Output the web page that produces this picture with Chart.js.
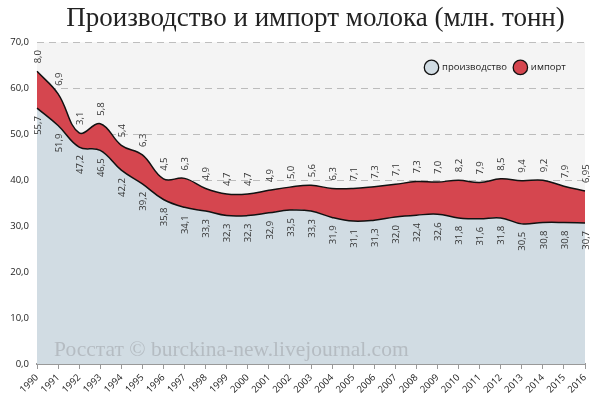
<!DOCTYPE html>
<html>
<head>
<meta charset="utf-8">
<script src="https://cdn.jsdelivr.net/npm/chart.js@4.4.0/dist/chart.umd.min.js"></script>
<style>
    html, body { margin: 0; padding: 0; background: #fff; }
    #wrap { width: 600px; height: 401px; }
</style>
</head>
<body>
<div id="wrap"><canvas id="milk"></canvas></div>
<script>
// years
const years = ["1990", "1991", "1992", "1993", "1994", "1995", "1996", "1997", "1998", "1999",
    "2000", "2001", "2002", "2003", "2004", "2005", "2006", "2007", "2008", "2009",
    "2010", "2011", "2012", "2013", "2014", "2015", "2016"];

// производство, млн. тонн
const production = [55.7, 51.9, 47.2, 46.5, 42.2, 39.2, 35.8, 34.1, 33.3, 32.3,
    32.3, 32.9, 33.5, 33.3, 31.9, 31.1, 31.3, 32.0, 32.4, 32.6,
    31.8, 31.6, 31.8, 30.5, 30.8, 30.8, 30.7];

// импорт, млн. тонн
const imports = [8.0, 6.9, 3.1, 5.8, 5.4, 6.3, 4.5, 6.3, 4.9, 4.7,
    4.7, 4.9, 5.0, 5.6, 6.3, 7.1, 7.3, 7.1, 7.3, 7.0,
    8.2, 7.9, 8.5, 9.4, 9.2, 7.9, 6.95];

const yTicks = [0, 10, 20, 30, 40, 50, 60, 70];

function fmt(v) {
    const d = Math.round(v * 10) / 10 === v ? 1 : 2;
    return v.toFixed(d).replace(".", ",");
}

// grey background of the plot area + watermark
const plotBg = {
    id: "plotBg",
    afterLayout(chart) {
        // title sits a bit right of the canvas centre
        chart.titleBlock.left += 46;
    },
    beforeDraw(chart) {
        const { ctx, chartArea: a } = chart;
        ctx.save();
        ctx.fillStyle = "#f4f4f4";
        ctx.fillRect(a.left, a.top, a.right - a.left, a.bottom - a.top);
        ctx.restore();
    },
    afterDatasetsDraw(chart) {
        const { ctx, chartArea: a } = chart;
        ctx.save();
        ctx.font = "21.5px 'Liberation Serif', serif";
        ctx.fillStyle = "#b5bcc2";
        ctx.textBaseline = "middle";
        ctx.fillText("Росстат © burckina-new.livejournal.com", a.left + 17, a.bottom - 14);
        ctx.restore();
    }
};

// vertical value labels
const valueLabels = {
    id: "valueLabels",
    afterDatasetsDraw(chart) {
        const ctx = chart.ctx;
        ctx.save();
        ctx.font = "9.5px 'Open Sans', sans-serif";
        ctx.fillStyle = "#333";
        ctx.textBaseline = "middle";
        chart.data.datasets.forEach((ds, i) => {
            const meta = chart.getDatasetMeta(i);
            meta.data.forEach((pt, j) => {
                ctx.save();
                ctx.translate(pt.x + 1, i === 0 ? pt.y + 8 : pt.y - 8);
                ctx.rotate(-Math.PI / 2);
                ctx.textAlign = i === 0 ? "right" : "left";
                ctx.fillText(fmt(ds.data[j]), 0, 0);
                ctx.restore();
            });
        });
        ctx.restore();
    }
};

// legend in the upper right corner of the plot
const cornerLegend = {
    id: "cornerLegend",
    afterDraw(chart) {
        const ctx = chart.ctx;
        const a = chart.chartArea;
        let x = a.right - 161;
        const y = a.top + 25;
        ctx.save();
        ctx.font = "9.5px 'Open Sans', sans-serif";
        ctx.textBaseline = "middle";
        chart.data.datasets.forEach((ds) => {
            ctx.beginPath();
            ctx.arc(x + 7.5, y, 7.2, 0, Math.PI * 2);
            ctx.fillStyle = ds.backgroundColor;
            ctx.fill();
            ctx.lineWidth = 1.3;
            ctx.strokeStyle = ds.borderColor;
            ctx.stroke();
            ctx.fillStyle = "#222";
            ctx.fillText(ds.label, x + 18, y);
            x += 18 + ctx.measureText(ds.label).width + 6;
        });
        ctx.restore();
    }
};

const myChart = new Chart(document.getElementById("milk"), {
    type: "line",
    data: {
        labels: years,
        datasets: [{
            label: "производство",
            data: production,
            backgroundColor: "#d1dce3",
            borderColor: "#111",
            borderWidth: 1.5,
            fill: "origin",
            tension: 0.4,
            pointRadius: 0,
        }, {
            label: "импорт",
            data: imports,
            backgroundColor: "#d5464f",
            borderColor: "#111",
            borderWidth: 1.5,
            fill: "-1",
            tension: 0.4,
            pointRadius: 0,
        }],
    },
    options: {
        responsive: true,
        maintainAspectRatio: false,
        animation: false,
        layout: {
            padding: { left: 0, right: 15, top: 0, bottom: 0 },
        },
        plugins: {
            title: {
                display: true,
                text: "Производство и импорт молока (млн. тонн)",
                color: "#222",
                font: { family: "'Liberation Serif', serif", size: 27, weight: "normal" },
                padding: { top: 3, bottom: 7 },
            },
            legend: { display: false },
            tooltip: { enabled: false },
        },
        scales: {
            x: {
                grid: { drawOnChartArea: false, drawTicks: true, tickLength: 5, color: "#999" },
                border: { color: "#999", width: 2 },
                ticks: {
                    minRotation: 45,
                    maxRotation: 45,
                    autoSkip: false,
                    padding: 3,
                    color: "#222",
                    font: { family: "'Open Sans', sans-serif", size: 9.5 },
                },
                afterFit: (scale) => { scale.height = 37; },
            },
            y: {
                stacked: true,
                min: 0,
                max: 70,
                z: 1,
                afterBuildTicks: (scale) => { scale.ticks = yTicks.map(v => ({ value: v })); },
                grid: { color: "rgba(150,150,150,0.6)", drawTicks: false },
                border: { display: false, dash: [7, 5] },
                ticks: {
                    padding: 8,
                    color: "#222",
                    font: { family: "'Open Sans', sans-serif", size: 9.5 },
                    callback: (v) => v.toFixed(1).replace(".", ","),
                },
                afterFit: (scale) => { scale.width = 37; },
            },
        },
    },
    plugins: [plotBg, valueLabels, cornerLegend],
});
</script>
</body>
</html>
